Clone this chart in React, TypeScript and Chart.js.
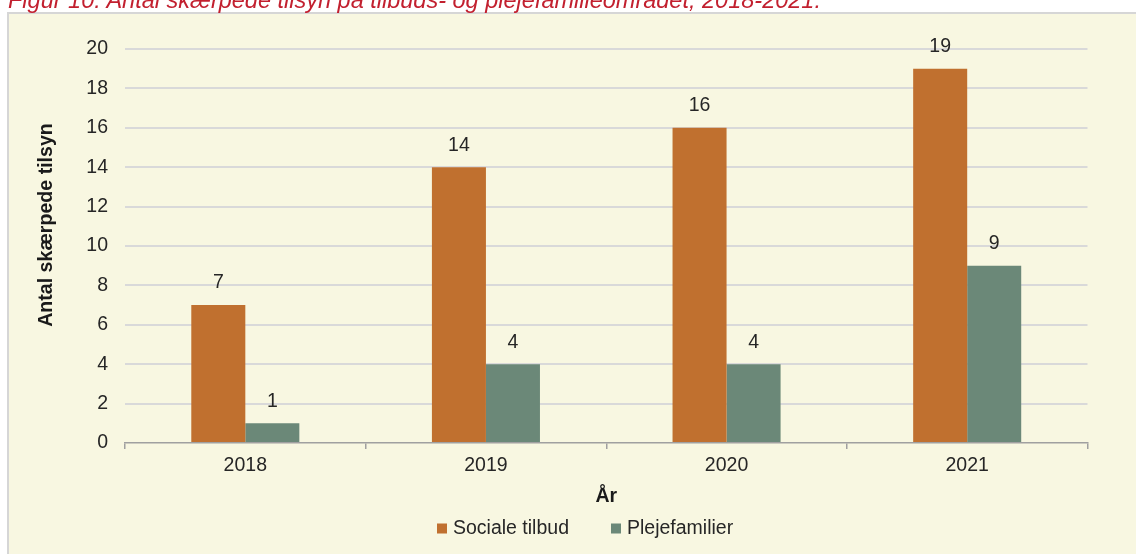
import React, { useEffect, useRef } from "react";
import { Chart, registerables } from "chart.js";

Chart.register(...registerables);

// ---- data ----
const figureTitle =
  "Figur 10: Antal skærpede tilsyn på tilbuds- og plejefamilieområdet, 2018-2021.";
const years = ["2018", "2019", "2020", "2021"];
const socialeTilbud = [7, 14, 16, 19];
const plejefamilier = [1, 4, 4, 9];
const seriesNames = ["Sociale tilbud", "Plejefamilier"];
const yAxisTitle = "Antal skærpede tilsyn";
const xAxisTitle = "År";
const yMin = 0;
const yMax = 20;
const yStep = 2;

// ---- style ----
const FONT = "'Liberation Sans', Arial, Helvetica, sans-serif";
const ORANGE = "#c0702f";
const GREEN = "#6b8878";
const TEXT = "#262626";
const DARK = "#1a1a1a";
const PANEL = "#f8f7e1";
const PANEL_BORDER = "#d6d6d6";
const GRID = "#d9d9d9";
const AXIS = "#a0a0a0";

export default function App() {
  const ref = useRef<HTMLCanvasElement>(null);

  useEffect(() => {
    const canvas = ref.current;
    if (!canvas) return;

    const panelPlugin = {
      id: "panelBg",
      beforeDraw(chart: any) {
        const { ctx, width, height } = chart;
        ctx.save();
        ctx.fillStyle = "#ffffff";
        ctx.fillRect(0, 0, width, height);
        ctx.fillStyle = PANEL;
        ctx.fillRect(8, 13, width, height);
        ctx.strokeStyle = PANEL_BORDER;
        ctx.lineWidth = 2;
        ctx.strokeRect(8, 13, width + 20, height + 20);
        ctx.restore();
      },
    };

    const labelsPlugin = {
      id: "valueLabels",
      afterDatasetsDraw(chart: any) {
        const { ctx } = chart;
        ctx.save();
        ctx.font = `19.5px ${FONT}`;
        ctx.fillStyle = TEXT;
        ctx.textAlign = "center";
        ctx.textBaseline = "middle";
        chart.data.datasets.forEach((ds: any, di: number) => {
          const meta = chart.getDatasetMeta(di);
          meta.data.forEach((el: any, i: number) => {
            ctx.fillText(String(ds.data[i]), el.x, el.y - 22);
          });
        });
        ctx.restore();
      },
    };

    const yTitlePlugin = {
      id: "yTitle",
      afterDraw(chart: any) {
        const { ctx } = chart;
        ctx.save();
        ctx.translate(47, 225);
        ctx.rotate(-Math.PI / 2);
        ctx.font = `bold 19.6px ${FONT}`;
        ctx.fillStyle = DARK;
        ctx.textAlign = "center";
        ctx.textBaseline = "middle";
        ctx.fillText(yAxisTitle, 0, 0);
        ctx.restore();
      },
    };

    const legendPlugin = {
      id: "customLegend",
      afterDraw(chart: any) {
        const { ctx } = chart;
        ctx.save();
        ctx.font = `19.5px ${FONT}`;
        ctx.textAlign = "left";
        ctx.textBaseline = "middle";
        let x = 437;
        const y = 528.5;
        chart.data.datasets.forEach((ds: any) => {
          ctx.fillStyle = ds.backgroundColor;
          ctx.fillRect(x, y - 5, 10, 10);
          ctx.fillStyle = TEXT;
          ctx.fillText(ds.label, x + 16, y);
          x += 16 + ctx.measureText(ds.label).width + 42;
        });
        ctx.restore();
      },
    };

    const chart = new Chart(canvas, {
      type: "bar",
      data: {
        labels: years,
        datasets: [
          {
            label: seriesNames[0],
            data: socialeTilbud,
            backgroundColor: ORANGE,
            borderWidth: 0,
          },
          {
            label: seriesNames[1],
            data: plejefamilier,
            backgroundColor: GREEN,
            borderWidth: 0,
          },
        ],
      },
      options: {
        responsive: false,
        animation: false,
        devicePixelRatio: 1,
        datasets: {
          bar: { categoryPercentage: 0.449, barPercentage: 1.0 },
        },
        layout: { padding: { top: 49, right: 48.5, bottom: 44, left: 0 } },
        plugins: {
          legend: { display: false },
          title: { display: false },
          tooltip: { enabled: false },
        },
        scales: {
          x: {
            type: "category",
            offset: true,
            grid: {
              offset: true,
              drawOnChartArea: false,
              drawTicks: true,
              tickLength: 6,
              color: AXIS,
              lineWidth: 1.5,
            },
            border: { display: true, color: AXIS, width: 1.5 },
            ticks: {
              font: { family: FONT, size: 19.5 },
              color: TEXT,
              padding: 5,
              maxRotation: 0,
            },
            title: {
              display: true,
              text: xAxisTitle,
              font: { family: FONT, size: 19.5, weight: "bold" },
              color: DARK,
              padding: { top: 0, bottom: 2 },
            },
            afterFit: (s: any) => {
              s.height = 67;
            },
          },
          y: {
            min: yMin,
            max: yMax,
            ticks: {
              stepSize: yStep,
              font: { family: FONT, size: 19.5 },
              color: TEXT,
              padding: 17,
            },
            grid: {
              drawTicks: false,
              lineWidth: 2,
              color: (c: any) =>
                c.tick && c.tick.value === 0 ? "rgba(0,0,0,0)" : GRID,
            },
            border: { display: false },
            afterFit: (s: any) => {
              s.width = 125;
            },
          },
        },
      },
      plugins: [panelPlugin, labelsPlugin, yTitlePlugin, legendPlugin],
    });

    return () => chart.destroy();
  }, []);

  return (
    <div
      style={{
        position: "fixed",
        left: 0,
        top: 0,
        width: 1136,
        height: 554,
        overflow: "hidden",
        background: "#ffffff",
      }}
    >
      <canvas
        ref={ref}
        width={1136}
        height={554}
        style={{ position: "absolute", left: 0, top: 0, width: 1136, height: 554 }}
      />
      <div
        style={{
          position: "absolute",
          left: 8,
          top: -12,
          fontFamily: FONT,
          fontStyle: "italic",
          fontSize: 23.5,
          lineHeight: "24px",
          color: "#c2202f",
          whiteSpace: "nowrap",
        }}
      >
        {figureTitle}
      </div>
    </div>
  );
}
